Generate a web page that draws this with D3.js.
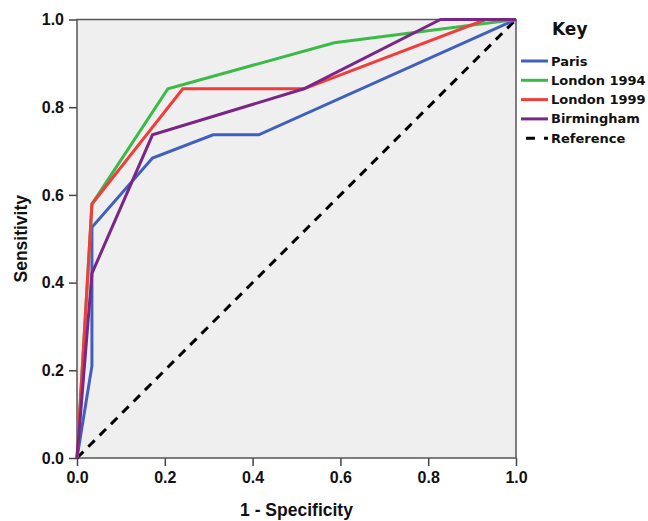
<!DOCTYPE html>
<html>
<head>
<meta charset="utf-8">
<script src="https://cdn.jsdelivr.net/npm/d3@7"></script>
<style>
  body { margin: 0; background: #fff; }
  svg { display: block; }
</style>
</head>
<body>
<svg id="chart" width="648" height="521"></svg>
<script>
// ROC curves (x = 1 - specificity, y = sensitivity)
var seriesNames = ['Paris', 'London 1994', 'London 1999', 'Birmingham']
var seriesColors = ['#4160bd', '#3cba48', '#f23c3c', '#7a2686']

var parisX = [0, 0.034, 0.034, 0.172, 0.31, 0.414, 1]
var parisY = [0, 0.21, 0.526, 0.684, 0.737, 0.737, 1]

var london94X = [0, 0.034, 0.207, 0.586, 1]
var london94Y = [0, 0.579, 0.842, 0.947, 1]

var london99X = [0, 0.034, 0.241, 0.517, 0.931, 1]
var london99Y = [0, 0.579, 0.842, 0.842, 1, 1]

var birminghamX = [0, 0.034, 0.172, 0.517, 0.828, 1]
var birminghamY = [0, 0.421, 0.737, 0.842, 1, 1]

var referenceX = [0, 1]
var referenceY = [0, 1]

var ticks = [0, 0.2, 0.4, 0.6, 0.8, 1.0]

var svg = d3.select('#chart')
var margin = { left: 77, top: 19.5, right: 132, bottom: 63 }
var W = 648, H = 521

var x = d3.scaleLinear().domain([0, 1]).range([margin.left, W - margin.right])
var y = d3.scaleLinear().domain([0, 1]).range([H - margin.bottom, margin.top])

function zip(xs, ys) {
  return xs.map(function(v, i) { return [v, ys[i]] })
}

var series = [
  zip(parisX, parisY),
  zip(london94X, london94Y),
  zip(london99X, london99Y),
  zip(birminghamX, birminghamY)
]

// plot background
svg.append('rect')
  .attr('x', x(0)).attr('y', y(1))
  .attr('width', x(1) - x(0)).attr('height', y(0) - y(1))
  .attr('fill', '#efefef')

// axes
var xAxis = d3.axisBottom(x).tickValues(ticks).tickFormat(d3.format('.1f')).tickSize(8).tickPadding(6)
var yAxis = d3.axisLeft(y).tickValues(ticks).tickFormat(d3.format('.1f')).tickSize(8).tickPadding(5)

var gx = svg.append('g').attr('transform', 'translate(0,' + y(0) + ')').call(xAxis)
var gy = svg.append('g').attr('transform', 'translate(' + x(0) + ',0)').call(yAxis)

;[gx, gy].forEach(function(g) {
  g.select('.domain').remove()
  g.selectAll('line').attr('stroke', '#444').attr('stroke-width', 1.5)
  g.selectAll('text')
    .attr('fill', '#111')
    .style('font-family', '"Liberation Sans", Arial, sans-serif')
    .style('font-weight', 'bold')
    .style('font-size', '16px')
})

// frame
svg.append('rect')
  .attr('x', x(0)).attr('y', y(1))
  .attr('width', x(1) - x(0)).attr('height', y(0) - y(1))
  .attr('fill', 'none')
  .attr('stroke', '#555')
  .attr('stroke-width', 1.5)

var line = d3.line()
  .x(function(d) { return x(d[0]) })
  .y(function(d) { return y(d[1]) })

svg.append('path')
  .datum(zip(referenceX, referenceY))
  .attr('d', line)
  .attr('fill', 'none')
  .attr('stroke', '#000')
  .attr('stroke-width', 3)
  .attr('stroke-dasharray', '9,7')

svg.selectAll('.roc')
  .data(series)
  .enter()
  .append('path')
  .attr('class', 'roc')
  .attr('d', line)
  .attr('fill', 'none')
  .attr('stroke', function(d, i) { return seriesColors[i] })
  .attr('stroke-width', 3)
  .attr('stroke-linejoin', 'miter')

// axis titles
svg.append('text')
  .attr('x', (x(0) + x(1)) / 2)
  .attr('y', 516)
  .attr('text-anchor', 'middle')
  .style('font-family', '"Liberation Sans", Arial, sans-serif')
  .style('font-weight', 'bold')
  .style('font-size', '17.5px')
  .attr('fill', '#111')
  .text('1 - Specificity')

svg.append('text')
  .attr('transform', 'translate(27,' + (y(0) + y(1)) / 2 + ') rotate(-90)')
  .attr('text-anchor', 'middle')
  .style('font-family', '"Liberation Sans", Arial, sans-serif')
  .style('font-weight', 'bold')
  .style('font-size', '17.5px')
  .attr('fill', '#111')
  .text('Sensitivity')

// legend
var legend = svg.append('g').attr('transform', 'translate(521,0)')
legend.append('text')
  .attr('x', 31).attr('y', 35)
  .style('font-family', '"DejaVu Sans", Verdana, sans-serif')
  .style('font-weight', 'bold')
  .style('font-size', '17px')
  .attr('fill', '#111')
  .text('Key')

var keyNames = seriesNames.concat(['Reference'])
var keyColors = seriesColors.concat(['#000'])

var items = legend.selectAll('.key')
  .data(keyNames)
  .enter()
  .append('g')
  .attr('class', 'key')
  .attr('transform', function(d, i) { return 'translate(0,' + (61 + i * 19.3) + ')' })

items.append('line')
  .attr('x1', 0).attr('x2', 27)
  .attr('stroke', function(d, i) { return keyColors[i] })
  .attr('stroke-width', 3)
  .attr('stroke-dasharray', function(d, i) { return i === 4 ? '9,9' : null })
  .attr('stroke-dashoffset', function(d, i) { return i === 4 ? -5 : 0 })

items.append('text')
  .attr('x', 30)
  .attr('dy', '0.35em')
  .style('font-family', '"DejaVu Sans", Verdana, sans-serif')
  .style('font-weight', 'bold')
  .style('font-size', '13px')
  .attr('fill', '#111')
  .text(function(d) { return d })
</script>
</body>
</html>
